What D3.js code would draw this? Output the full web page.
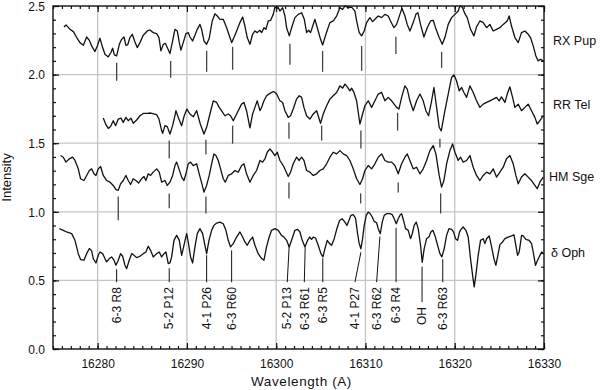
<!DOCTYPE html>
<html>
<head>
<meta charset="UTF-8">
<title>Spectra</title>
<script src="https://cdn.jsdelivr.net/npm/d3@7/dist/d3.min.js"></script>
<style>
  body { margin: 0; background: #fff; }
  svg text { font-family: "Liberation Sans", Arial, sans-serif; fill: #111; }
</style>
</head>
<body>
<script>
// ---- data: [wavelength, intensity] ----
var rxPup = [[16276.23,2.347],[16276.46,2.362],[16276.90,2.330],[16277.28,2.313],[16277.65,2.270],[16278.02,2.233],[16278.40,2.214],[16278.77,2.274],[16279.07,2.250],[16279.33,2.209],[16279.70,2.168],[16279.96,2.209],[16280.26,2.265],[16280.56,2.197],[16280.82,2.148],[16281.19,2.129],[16281.49,2.161],[16281.68,2.192],[16281.87,2.144],[16282.13,2.136],[16282.43,2.221],[16282.69,2.257],[16282.95,2.274],[16283.17,2.214],[16283.36,2.216],[16283.62,2.270],[16283.88,2.294],[16284.18,2.238],[16284.44,2.197],[16284.74,2.233],[16285.11,2.287],[16285.56,2.318],[16285.86,2.325],[16286.23,2.306],[16286.61,2.299],[16286.87,2.270],[16287.09,2.173],[16287.36,2.221],[16287.58,2.228],[16287.80,2.197],[16288.10,2.153],[16288.40,2.245],[16288.66,2.330],[16288.92,2.318],[16289.15,2.233],[16289.33,2.178],[16289.59,2.233],[16289.89,2.299],[16290.16,2.306],[16290.34,2.274],[16290.64,2.245],[16290.94,2.294],[16291.16,2.330],[16291.46,2.366],[16291.65,2.330],[16291.91,2.245],[16292.21,2.221],[16292.50,2.265],[16292.84,2.391],[16293.14,2.444],[16293.40,2.427],[16293.70,2.403],[16294.07,2.403],[16294.45,2.342],[16294.82,2.270],[16295.01,2.233],[16295.27,2.270],[16295.57,2.318],[16295.94,2.379],[16296.24,2.420],[16296.50,2.354],[16296.76,2.270],[16297.06,2.221],[16297.36,2.294],[16297.62,2.318],[16297.88,2.306],[16298.18,2.323],[16298.37,2.306],[16298.63,2.342],[16298.85,2.330],[16299.11,2.391],[16299.38,2.396],[16299.67,2.439],[16299.86,2.492],[16300.05,2.483],[16300.23,2.488],[16300.42,2.463],[16300.72,2.488],[16300.98,2.427],[16301.17,2.342],[16301.47,2.282],[16301.73,2.342],[16302.10,2.415],[16302.47,2.439],[16302.85,2.451],[16303.15,2.403],[16303.41,2.306],[16303.63,2.323],[16303.85,2.306],[16304.34,2.403],[16304.71,2.318],[16304.97,2.257],[16305.20,2.216],[16305.46,2.270],[16305.72,2.323],[16306.02,2.379],[16306.39,2.391],[16306.77,2.427],[16307.14,2.488],[16307.44,2.475],[16307.70,2.500],[16308.07,2.488],[16308.45,2.492],[16308.82,2.463],[16309.01,2.391],[16309.30,2.306],[16309.57,2.282],[16309.86,2.318],[16310.13,2.379],[16310.50,2.415],[16310.80,2.386],[16311.06,2.403],[16311.43,2.427],[16311.81,2.415],[16312.18,2.439],[16312.55,2.427],[16312.81,2.391],[16313.19,2.342],[16313.49,2.366],[16313.86,2.439],[16314.08,2.483],[16314.42,2.427],[16314.68,2.366],[16314.98,2.318],[16315.35,2.379],[16315.65,2.439],[16315.87,2.451],[16316.17,2.366],[16316.55,2.274],[16316.92,2.342],[16317.29,2.391],[16317.59,2.396],[16317.85,2.342],[16318.26,2.270],[16318.60,2.221],[16318.90,2.270],[16319.27,2.366],[16319.65,2.415],[16320.02,2.439],[16320.39,2.463],[16320.58,2.500],[16320.84,2.492],[16321.14,2.444],[16321.40,2.415],[16321.77,2.330],[16322.15,2.282],[16322.44,2.347],[16322.82,2.391],[16323.19,2.379],[16323.57,2.342],[16323.94,2.366],[16324.31,2.318],[16324.68,2.330],[16325.06,2.342],[16325.43,2.366],[16325.88,2.391],[16326.10,2.427],[16326.36,2.354],[16326.74,2.270],[16327.11,2.233],[16327.48,2.306],[16327.86,2.318],[16328.23,2.294],[16328.49,2.270],[16328.79,2.209],[16329.09,2.136],[16329.35,2.100],[16329.61,2.112],[16329.91,2.100]];

var rrTel = [[16280.63,1.683],[16280.93,1.635],[16281.19,1.608],[16281.45,1.621],[16281.75,1.664],[16282.01,1.628],[16282.31,1.676],[16282.61,1.683],[16282.87,1.652],[16283.17,1.688],[16283.43,1.664],[16283.73,1.683],[16283.99,1.645],[16284.37,1.669],[16284.74,1.700],[16285.11,1.717],[16285.56,1.717],[16285.93,1.720],[16286.31,1.713],[16286.61,1.708],[16286.87,1.676],[16287.17,1.592],[16287.28,1.572],[16287.54,1.628],[16287.80,1.621],[16288.10,1.567],[16288.40,1.628],[16288.66,1.701],[16288.77,1.737],[16289.03,1.688],[16289.41,1.628],[16289.70,1.700],[16290.00,1.749],[16290.34,1.713],[16290.72,1.693],[16291.09,1.737],[16291.50,1.640],[16291.91,1.567],[16292.21,1.616],[16292.58,1.713],[16292.95,1.809],[16293.33,1.797],[16293.62,1.761],[16294.00,1.725],[16294.26,1.700],[16294.63,1.713],[16294.89,1.700],[16295.19,1.664],[16295.57,1.713],[16296.12,1.785],[16296.39,1.797],[16296.68,1.737],[16297.06,1.612],[16297.36,1.713],[16297.62,1.761],[16297.88,1.809],[16298.18,1.737],[16298.37,1.761],[16298.63,1.809],[16298.93,1.846],[16299.30,1.863],[16299.67,1.877],[16299.86,1.870],[16300.05,1.858],[16300.42,1.809],[16300.72,1.797],[16300.98,1.737],[16301.35,1.688],[16301.61,1.700],[16301.91,1.749],[16302.28,1.821],[16302.58,1.846],[16302.85,1.834],[16303.11,1.761],[16303.41,1.700],[16303.78,1.676],[16304.15,1.713],[16304.53,1.737],[16304.97,1.645],[16305.27,1.713],[16305.65,1.773],[16306.02,1.821],[16306.39,1.846],[16306.77,1.870],[16307.14,1.918],[16307.44,1.901],[16307.70,1.931],[16307.96,1.911],[16308.26,1.882],[16308.45,1.901],[16308.71,1.870],[16309.01,1.809],[16309.38,1.640],[16309.68,1.713],[16309.94,1.773],[16310.31,1.809],[16310.69,1.761],[16311.06,1.809],[16311.43,1.858],[16311.81,1.870],[16312.18,1.809],[16312.55,1.834],[16312.93,1.809],[16313.49,1.761],[16313.75,1.749],[16314.05,1.834],[16314.42,1.918],[16314.68,1.894],[16314.98,1.809],[16315.35,1.737],[16315.73,1.809],[16316.10,1.858],[16316.47,1.809],[16316.77,1.737],[16317.07,1.700],[16317.41,1.809],[16317.67,1.906],[16317.97,1.761],[16318.26,1.616],[16318.49,1.590],[16318.90,1.737],[16319.27,1.858],[16319.65,1.979],[16319.91,1.998],[16320.20,1.955],[16320.50,1.882],[16320.77,1.906],[16321.03,1.870],[16321.33,1.834],[16321.70,1.918],[16322.07,1.870],[16322.44,1.809],[16322.82,1.761],[16323.19,1.785],[16323.57,1.797],[16323.94,1.809],[16324.31,1.821],[16324.68,1.834],[16324.98,1.809],[16325.24,1.838],[16325.62,1.797],[16325.88,1.858],[16326.18,1.911],[16326.48,1.834],[16326.74,1.761],[16327.11,1.785],[16327.48,1.737],[16327.86,1.761],[16328.23,1.785],[16328.60,1.737],[16328.98,1.688],[16329.24,1.640],[16329.54,1.664],[16329.91,1.700]];

var hmSge = [[16275.85,1.410],[16276.15,1.398],[16276.45,1.362],[16276.83,1.386],[16277.20,1.398],[16277.46,1.374],[16277.83,1.313],[16278.09,1.241],[16278.47,1.228],[16278.77,1.265],[16279.07,1.301],[16279.33,1.313],[16279.59,1.277],[16279.81,1.265],[16280.07,1.313],[16280.33,1.330],[16280.63,1.265],[16281.01,1.228],[16281.38,1.216],[16281.75,1.192],[16282.05,1.161],[16282.31,1.156],[16282.57,1.204],[16282.87,1.228],[16283.17,1.265],[16283.43,1.228],[16283.69,1.199],[16283.99,1.241],[16284.29,1.228],[16284.59,1.209],[16284.93,1.241],[16285.19,1.257],[16285.41,1.228],[16285.67,1.277],[16285.93,1.265],[16286.23,1.289],[16286.61,1.313],[16286.90,1.289],[16287.17,1.216],[16287.54,1.228],[16287.80,1.192],[16288.10,1.216],[16288.40,1.265],[16288.66,1.337],[16288.85,1.362],[16289.11,1.313],[16289.41,1.253],[16289.67,1.228],[16289.89,1.277],[16290.15,1.350],[16290.41,1.362],[16290.71,1.337],[16291.09,1.350],[16291.38,1.277],[16291.68,1.204],[16291.91,1.144],[16292.21,1.192],[16292.50,1.265],[16292.77,1.350],[16293.03,1.422],[16293.25,1.410],[16293.51,1.374],[16293.77,1.313],[16294.07,1.241],[16294.30,1.216],[16294.63,1.265],[16295.01,1.277],[16295.38,1.301],[16295.75,1.289],[16296.13,1.337],[16296.39,1.350],[16296.68,1.277],[16297.06,1.216],[16297.43,1.265],[16297.81,1.301],[16298.18,1.374],[16298.48,1.362],[16298.74,1.386],[16299.00,1.434],[16299.30,1.458],[16299.60,1.434],[16299.86,1.410],[16300.12,1.434],[16300.42,1.374],[16300.79,1.337],[16301.05,1.301],[16301.35,1.257],[16301.61,1.289],[16301.91,1.350],[16302.28,1.398],[16302.58,1.374],[16302.85,1.398],[16303.11,1.374],[16303.41,1.301],[16303.78,1.289],[16304.15,1.265],[16304.53,1.277],[16304.90,1.301],[16305.27,1.313],[16305.65,1.350],[16306.02,1.398],[16306.39,1.434],[16306.77,1.422],[16307.14,1.446],[16307.51,1.422],[16307.89,1.410],[16308.26,1.374],[16308.63,1.313],[16309.01,1.241],[16309.38,1.199],[16309.68,1.241],[16309.94,1.301],[16310.31,1.337],[16310.69,1.313],[16311.06,1.350],[16311.43,1.398],[16311.81,1.422],[16312.18,1.374],[16312.55,1.362],[16312.93,1.362],[16313.30,1.337],[16313.67,1.277],[16314.05,1.350],[16314.42,1.398],[16314.68,1.422],[16314.98,1.374],[16315.35,1.313],[16315.73,1.325],[16316.10,1.277],[16316.47,1.313],[16316.85,1.374],[16317.22,1.446],[16317.59,1.483],[16317.89,1.422],[16318.26,1.265],[16318.53,1.180],[16318.79,1.228],[16319.09,1.350],[16319.46,1.446],[16319.76,1.495],[16320.02,1.434],[16320.39,1.374],[16320.65,1.398],[16320.95,1.362],[16321.33,1.374],[16321.70,1.410],[16322.07,1.325],[16322.44,1.265],[16322.82,1.228],[16323.19,1.265],[16323.57,1.289],[16323.94,1.277],[16324.31,1.313],[16324.68,1.253],[16325.06,1.289],[16325.43,1.325],[16325.80,1.386],[16326.18,1.410],[16326.55,1.350],[16326.85,1.265],[16327.11,1.204],[16327.48,1.253],[16327.86,1.277],[16328.23,1.253],[16328.60,1.228],[16328.98,1.192],[16329.24,1.168],[16329.54,1.216],[16329.91,1.253]];

var delOph = [[16275.71,0.877],[16276.15,0.865],[16276.53,0.853],[16277.09,0.841],[16277.46,0.792],[16277.83,0.695],[16278.09,0.652],[16278.47,0.647],[16278.77,0.695],[16279.07,0.732],[16279.33,0.715],[16279.51,0.659],[16279.81,0.627],[16280.07,0.683],[16280.26,0.707],[16280.56,0.695],[16280.82,0.659],[16281.01,0.635],[16281.31,0.659],[16281.57,0.671],[16281.83,0.647],[16282.05,0.611],[16282.31,0.647],[16282.57,0.695],[16282.80,0.676],[16283.06,0.611],[16283.25,0.586],[16283.54,0.647],[16283.81,0.695],[16284.07,0.683],[16284.37,0.666],[16284.74,0.676],[16285.11,0.695],[16285.41,0.707],[16285.67,0.749],[16285.93,0.719],[16286.23,0.671],[16286.61,0.695],[16286.90,0.707],[16287.17,0.671],[16287.43,0.695],[16287.65,0.707],[16287.91,0.623],[16288.10,0.627],[16288.29,0.671],[16288.55,0.792],[16288.85,0.828],[16289.15,0.792],[16289.41,0.683],[16289.67,0.756],[16289.97,0.841],[16290.15,0.780],[16290.41,0.671],[16290.64,0.627],[16290.90,0.744],[16291.16,0.841],[16291.46,0.877],[16291.76,0.841],[16292.02,0.756],[16292.21,0.695],[16292.47,0.792],[16292.77,0.865],[16293.03,0.901],[16293.33,0.918],[16293.70,0.925],[16294.07,0.913],[16294.37,0.865],[16294.63,0.792],[16294.89,0.744],[16295.19,0.768],[16295.57,0.816],[16295.94,0.853],[16296.24,0.816],[16296.50,0.780],[16296.76,0.756],[16297.06,0.792],[16297.36,0.816],[16297.62,0.756],[16297.99,0.695],[16298.37,0.659],[16298.63,0.647],[16298.92,0.744],[16299.22,0.816],[16299.48,0.865],[16299.86,0.877],[16300.23,0.865],[16300.60,0.828],[16300.87,0.816],[16301.17,0.792],[16301.46,0.744],[16301.72,0.792],[16302.10,0.865],[16302.40,0.872],[16302.66,0.853],[16302.92,0.792],[16303.22,0.744],[16303.52,0.792],[16303.74,0.816],[16303.97,0.799],[16304.15,0.816],[16304.41,0.809],[16304.71,0.756],[16305.01,0.695],[16305.24,0.671],[16305.46,0.731],[16305.72,0.792],[16305.98,0.768],[16306.21,0.756],[16306.50,0.804],[16306.80,0.877],[16307.10,0.937],[16307.40,0.949],[16307.70,0.925],[16307.92,0.901],[16308.15,0.937],[16308.37,0.974],[16308.63,0.979],[16308.89,0.954],[16309.12,0.840],[16309.30,0.768],[16309.49,0.731],[16309.68,0.804],[16309.86,0.901],[16310.09,0.974],[16310.31,0.998],[16310.54,0.986],[16310.76,0.962],[16310.98,0.930],[16311.25,0.920],[16311.43,0.877],[16311.66,0.840],[16311.88,0.925],[16312.10,0.974],[16312.37,0.986],[16312.74,0.986],[16313.00,0.979],[16313.22,0.949],[16313.45,0.913],[16313.67,0.949],[16313.90,0.979],[16314.05,0.986],[16314.27,0.937],[16314.49,0.877],[16314.79,0.865],[16315.05,0.804],[16315.24,0.840],[16315.46,0.901],[16315.69,0.925],[16315.91,0.877],[16316.17,0.756],[16316.36,0.632],[16316.58,0.732],[16316.85,0.804],[16317.11,0.816],[16317.33,0.853],[16317.55,0.865],[16317.78,0.828],[16318.08,0.756],[16318.34,0.695],[16318.56,0.671],[16318.82,0.732],[16319.09,0.828],[16319.35,0.877],[16319.65,0.872],[16319.87,0.853],[16320.09,0.804],[16320.32,0.792],[16320.54,0.853],[16320.77,0.877],[16320.95,0.889],[16321.25,0.865],[16321.51,0.816],[16321.77,0.659],[16322.00,0.538],[16322.18,0.453],[16322.37,0.538],[16322.63,0.683],[16322.89,0.792],[16323.19,0.804],[16323.38,0.768],[16323.57,0.804],[16323.86,0.824],[16324.13,0.744],[16324.39,0.659],[16324.61,0.610],[16324.87,0.695],[16325.06,0.761],[16325.36,0.780],[16325.62,0.804],[16325.99,0.816],[16326.37,0.824],[16326.63,0.833],[16326.85,0.756],[16327.04,0.683],[16327.22,0.707],[16327.49,0.828],[16327.67,0.824],[16327.97,0.799],[16328.34,0.792],[16328.61,0.768],[16328.79,0.707],[16329.05,0.610],[16329.28,0.647],[16329.46,0.671],[16329.73,0.707],[16329.91,0.695]];

var seriesNames = ["RX Pup", "RR Tel", "HM Sge", "\u03b4 Oph"];

// short line markers under each spectrum: [wavelength, top, bottom]
var rxPupMarks = [[16282.13,2.086,1.955],[16288.18,2.100,1.977],[16292.21,2.173,2.020],[16295.12,2.202,2.035],[16301.54,2.224,2.071],[16305.20,2.173,2.020],[16309.57,2.209,2.028],[16313.41,2.275,2.151],[16318.53,2.166,2.049]];
var rrTelMarks = [[16288.02,1.519,1.388],[16292.13,1.526,1.417],[16295.12,1.628,1.497],[16301.43,1.650,1.533],[16305.09,1.628,1.519],[16309.49,1.592,1.461],[16313.60,1.722,1.592],[16318.34,1.533,1.468]];
var hmSgeMarks = [[16282.31,1.112,0.938],[16288.02,1.134,1.025],[16292.13,1.112,0.988],[16301.43,1.214,1.097],[16309.46,1.134,1.061],[16313.67,1.214,1.141],[16318.42,1.134,0.988]];

// line identifications under delta Oph
var idNames  = ["6-3 R8","5-2 P12","4-1 P26","6-3 R60","5-2 P13","6-3 R61","6-3 R5","4-1 P27","6-3 R62","6-3 R4","OH","6-3 R63"];
var idTopWl  = [16282.13,16288.02,16292.21,16295.01,16301.46,16303.25,16305.22,16309.49,16311.62,16313.43,16316.34,16318.66];
var idBotWl  = [16282.13,16288.02,16292.21,16295.01,16301.24,16303.15,16305.22,16308.82,16311.25,16313.43,16316.34,16318.66];
var idTopI   = [0.581,0.589,0.683,0.719,0.756,0.741,0.661,0.705,0.820,0.883,0.600,0.655];
var idBotI   = [0.487,0.487,0.487,0.487,0.487,0.487,0.487,0.487,0.487,0.487,0.342,0.487];

var xTicks = [16280, 16290, 16300, 16310, 16320, 16330];
var yTicks = [0.0, 0.5, 1.0, 1.5, 2.0, 2.5];

// ---- drawing ----
var W = 600, H = 390;
var L = 53, R = 544, T = 6, B = 349;

var x = d3.scaleLinear().domain([16275, 16330]).range([L, R]);
var y = d3.scaleLinear().domain([0, 2.5]).range([B, T]);

var svg = d3.select("body").append("svg").attr("width", W).attr("height", H);

// grid
svg.append("g").selectAll("line").data(xTicks.filter(function (d) { return d < 16330; }))
    .enter().append("line")
    .attr("x1", function (d) { return x(d); }).attr("x2", function (d) { return x(d); })
    .attr("y1", T).attr("y2", B)
    .style("stroke", "#c4c4c4").style("stroke-width", 1.3);
svg.append("g").selectAll("line").data(yTicks.filter(function (d) { return d > 0 && d < 2.5; }))
    .enter().append("line")
    .attr("y1", function (d) { return y(d); }).attr("y2", function (d) { return y(d); })
    .attr("x1", L).attr("x2", R)
    .style("stroke", "#c4c4c4").style("stroke-width", 1.3);

// axes (ticks point inward)
var minorX = d3.range(16275, 16331, 1), minorY = d3.range(0, 2.51, 0.1);
function axisG(axis, tx, ty) {
    var g = svg.append("g").attr("transform", "translate(" + tx + "," + ty + ")").call(axis);
    g.select(".domain").remove();
    g.selectAll("line").style("stroke", "#111").style("stroke-width", 1.2);
    g.selectAll("text").style("font-size", "12px").style("font-family", "Liberation Sans, Arial, sans-serif").style("fill", "#111");
    return g;
}
axisG(d3.axisBottom(x).tickValues(minorX).tickSizeInner(-3).tickSizeOuter(0).tickFormat(""), 0, B);
axisG(d3.axisBottom(x).tickValues(xTicks).tickSizeInner(-6).tickSizeOuter(0).tickPadding(10).tickFormat(d3.format("d")), 0, B);
axisG(d3.axisTop(x).tickValues(minorX).tickSizeInner(-3).tickSizeOuter(0).tickFormat(""), 0, T);
axisG(d3.axisTop(x).tickValues(xTicks).tickSizeInner(-6).tickSizeOuter(0).tickFormat(""), 0, T);
axisG(d3.axisLeft(y).tickValues(minorY).tickSizeInner(-3).tickSizeOuter(0).tickFormat(""), L, 0);
var yLab = axisG(d3.axisLeft(y).tickValues(yTicks).tickSizeInner(-6).tickSizeOuter(0).tickPadding(8).tickFormat(d3.format(".1f")), L, 0);
yLab.selectAll("text").attr("dy", "0.36em");
axisG(d3.axisRight(y).tickValues(minorY).tickSizeInner(-3).tickSizeOuter(0).tickFormat(""), R, 0);
axisG(d3.axisRight(y).tickValues(yTicks).tickSizeInner(-6).tickSizeOuter(0).tickFormat(""), R, 0);

svg.append("rect").attr("x", L).attr("y", T).attr("width", R - L).attr("height", B - T)
    .style("fill", "none").style("stroke", "#111").style("stroke-width", 1.4);

// spectra
var line = d3.line().x(function (d) { return x(d[0]); }).y(function (d) { return y(d[1]); });
var allSeries = [rxPup, rrTel, hmSge, delOph];
svg.append("g").selectAll("path").data(allSeries).enter().append("path")
    .attr("d", line)
    .style("fill", "none").style("stroke", "#111").style("stroke-width", 1.3)
    .style("stroke-linejoin", "round");

// marker dashes
var marks = rxPupMarks.concat(rrTelMarks, hmSgeMarks);
svg.append("g").selectAll("line").data(marks).enter().append("line")
    .attr("x1", function (d) { return x(d[0]); }).attr("x2", function (d) { return x(d[0]); })
    .attr("y1", function (d) { return y(d[1]); }).attr("y2", function (d) { return y(d[2]); })
    .style("stroke", "#444").style("stroke-width", 1.3);

// series names
var nameLevel = [2.25, 1.78, 1.26, 0.70];
var nameX = [553, 553, 549, 551];
svg.append("g").selectAll("text").data(seriesNames).enter().append("text")
    .attr("x", function (d, i) { return nameX[i]; })
    .attr("y", function (d, i) { return y(nameLevel[i]); })
    .attr("dy", "0.35em")
    .style("font-size", "12.5px")
    .text(function (d) { return d; });

// identifications
var ids = idNames.map(function (n, i) {
    return { name: n, wt: idTopWl[i], wb: idBotWl[i], it: idTopI[i], ib: idBotI[i] };
});
var idG = svg.append("g");
idG.selectAll("line").data(ids).enter().append("line")
    .attr("x1", function (d) { return x(d.wt); }).attr("y1", function (d) { return y(d.it); })
    .attr("x2", function (d) { return x(d.wb); }).attr("y2", function (d) { return y(d.ib); })
    .style("stroke", "#111").style("stroke-width", 1);
idG.selectAll("text").data(ids).enter().append("text")
    .attr("transform", function (d) {
        return "translate(" + x(d.wb) + "," + (y(d.ib) + 5) + ") rotate(-90)";
    })
    .attr("text-anchor", "end")
    .attr("dy", "0.35em")
    .style("font-size", "12px")
    .text(function (d) { return d.name; });

// axis titles
svg.append("text").attr("transform", "translate(11," + ((T + B) / 2) + ") rotate(-90)")
    .attr("text-anchor", "middle").style("font-size", "13px").text("Intensity");
svg.append("text").attr("x", (L + R) / 2 + 3).attr("y", 386)
    .attr("text-anchor", "middle").style("font-size", "13.5px").style("letter-spacing", "0.6px")
    .text("Wavelength (A)");
</script>
</body>
</html>
